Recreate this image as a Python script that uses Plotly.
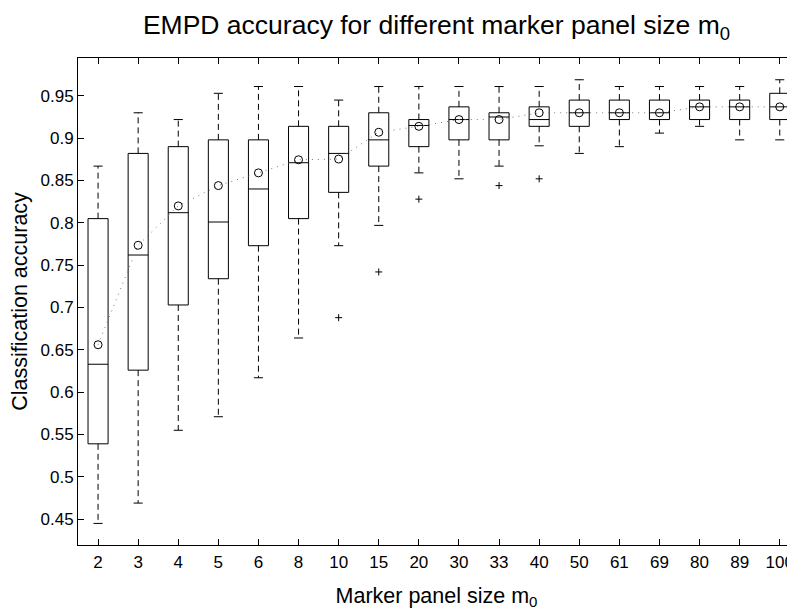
import plotly.graph_objects as go

categories = ["2", "3", "4", "5", "6", "8", "10", "15", "20", "30", "33", "40",
              "50", "61", "69", "80", "89", "100"]
q1 = [0.539, 0.626, 0.703, 0.734, 0.773, 0.805, 0.836, 0.867, 0.890, 0.898, 0.898, 0.914,
      0.914, 0.922, 0.922, 0.922, 0.922, 0.922]
median = [0.633, 0.762, 0.812, 0.801, 0.840, 0.871, 0.882, 0.898, 0.915, 0.922, 0.925, 0.922,
          0.930, 0.930, 0.930, 0.937, 0.937, 0.937]
q3 = [0.805, 0.882, 0.890, 0.898, 0.898, 0.914, 0.914, 0.930, 0.922, 0.937, 0.930, 0.937,
      0.945, 0.945, 0.945, 0.945, 0.945, 0.953]
lower_whisker = [0.445, 0.469, 0.555, 0.571, 0.617, 0.664, 0.773, 0.797, 0.859, 0.852, 0.867, 0.891,
                 0.882, 0.890, 0.906, 0.914, 0.898, 0.898]
upper_whisker = [0.867, 0.930, 0.922, 0.953, 0.961, 0.961, 0.945, 0.961, 0.961, 0.961, 0.961, 0.961,
                 0.969, 0.961, 0.961, 0.961, 0.961, 0.969]
means = [0.656, 0.7735, 0.820, 0.844, 0.859, 0.8745, 0.8753, 0.907, 0.914, 0.922, 0.922, 0.930,
         0.930, 0.930, 0.930, 0.937, 0.937, 0.937]
outlier_cats = ["10", "15", "20", "33", "40"]
outlier_vals = [0.688, 0.742, 0.828, 0.844, 0.852]

ytick_vals = [0.45, 0.5, 0.55, 0.6, 0.65, 0.7, 0.75, 0.8, 0.85, 0.9, 0.95]
ytick_text = ["0.45", "0.5", "0.55", "0.6", "0.65", "0.7", "0.75", "0.8", "0.85", "0.9", "0.95"]

FONT = "Liberation Sans, Arial, Helvetica, sans-serif"

fig = go.Figure()

# dotted line joining the means
fig.add_trace(go.Scatter(
    x=categories, y=means, mode="lines",
    line=dict(color="#7a7a7a", width=1, dash="1px,5px"),
    hoverinfo="skip"))

# dashed whiskers
wx, wy = [], []
for c, lo, a, b, hi in zip(categories, lower_whisker, q1, q3, upper_whisker):
    wx += [c, c, None, c, c, None]
    wy += [b, hi, None, a, lo, None]
fig.add_trace(go.Scatter(
    x=wx, y=wy, mode="lines", connectgaps=False,
    line=dict(color="black", width=1, dash="6px,4px"),
    hoverinfo="skip"))

# whisker caps
fig.add_trace(go.Scatter(
    x=categories + categories, y=lower_whisker + upper_whisker, mode="markers",
    marker=dict(symbol="line-ew", size=6.5, color="black",
                line=dict(color="black", width=1)),
    hoverinfo="skip"))

# boxes with median
fig.add_trace(go.Box(
    x=categories, q1=q1, median=median, q3=q3,
    lowerfence=q1, upperfence=q3, orientation="v",
    width=0.5, whiskerwidth=0, boxpoints=False,
    fillcolor="rgba(0,0,0,0)", line=dict(color="black", width=1)))

# means
fig.add_trace(go.Scatter(
    x=categories, y=means, mode="markers",
    marker=dict(symbol="circle-open", size=8, color="black",
                line=dict(color="black", width=1)),
    hoverinfo="skip"))

# outliers
fig.add_trace(go.Scatter(
    x=outlier_cats, y=outlier_vals, mode="markers",
    marker=dict(symbol="cross-thin", size=5, color="black",
                line=dict(color="black", width=1)),
    hoverinfo="skip"))

axis_common = dict(showline=True, linecolor="black", linewidth=1, mirror="ticks",
                   ticks="inside", ticklen=6, tickcolor="black", tickwidth=1,
                   showgrid=False, zeroline=False, automargin=False,
                   tickfont=dict(family=FONT, size=17, color="black"))

# the page body adds an 8px offset, so the figure is sized to the visible area
fig.update_layout(
    width=787, height=603,
    margin=dict(l=70, r=0, t=50, b=66),
    plot_bgcolor="white", paper_bgcolor="white",
    showlegend=False, hovermode=False,
    font=dict(family=FONT, color="black"),
    title=dict(text="EMPD accuracy for different marker panel size m<sub>0</sub>",
               x=0.5, xref="paper", xanchor="center",
               y=1 - 17 / 603, yref="container", yanchor="middle",
               font=dict(family=FONT, size=26.5, color="black"),
               automargin=False),
    xaxis=dict(type="category", categoryorder="array", categoryarray=categories,
               range=[-0.5, 17.38], ticklabelstandoff=2,
               title=dict(text="Marker panel size m<sub>0</sub>", standoff=16,
                          font=dict(family=FONT, size=21.5, color="black")),
               **axis_common),
    yaxis=dict(range=[0.4195, 0.9947], tickvals=ytick_vals, ticktext=ytick_text,
               title=dict(text="Classification accuracy", standoff=6,
                          font=dict(family=FONT, size=21.5, color="black")),
               **axis_common),
)

fig.write_html("out.html")
